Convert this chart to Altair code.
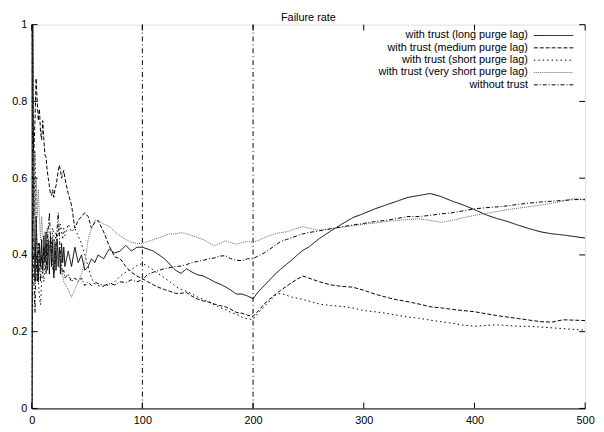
import altair as alt
import pandas as pd

# sample positions (time steps)
T = list(range(0, 31)) + [33, 36, 39, 42, 45, 48, 51, 54, 57, 60] + list(range(65, 251, 5)) + list(range(260, 501, 10))

long_lag = [1.0, 1.0, 0.5, 0.33, 0.5, 0.4, 0.33, 0.43, 0.37, 0.44, 0.36, 0.45, 0.38, 0.46, 0.36, 0.44,
            0.35, 0.45, 0.37, 0.44, 0.34, 0.43, 0.36, 0.44, 0.37, 0.42, 0.35, 0.43, 0.38, 0.42, 0.37,
            0.41, 0.37, 0.42, 0.38, 0.40, 0.36, 0.37, 0.39, 0.38, 0.40,
            0.39, 0.415, 0.405, 0.41, 0.425, 0.41, 0.42, 0.42, 0.415, 0.41, 0.40, 0.39, 0.375, 0.36, 0.352, 0.364,
            0.355, 0.348, 0.345, 0.338, 0.33, 0.324, 0.317, 0.308, 0.298, 0.298, 0.293, 0.286, 0.305, 0.32, 0.335, 0.35,
            0.363, 0.375, 0.387, 0.4, 0.412, 0.42,
            0.443, 0.462, 0.48, 0.497, 0.508, 0.52, 0.53, 0.54, 0.55, 0.555, 0.56, 0.552, 0.54, 0.53, 0.518,
            0.505, 0.495, 0.487, 0.477, 0.468, 0.46, 0.455, 0.452, 0.448, 0.444]

medium_lag = [0.0, 0.5, 0.67, 0.75, 0.86, 0.8, 0.75, 0.78, 0.72, 0.7, 0.75, 0.7, 0.66, 0.655, 0.62, 0.6,
              0.58, 0.56, 0.555, 0.57, 0.55, 0.57, 0.58, 0.6, 0.62, 0.634, 0.62, 0.6, 0.61, 0.62, 0.6,
              0.56, 0.53, 0.47, 0.49, 0.5, 0.51, 0.5, 0.47, 0.485, 0.49,
              0.46, 0.424, 0.395, 0.39, 0.37, 0.355, 0.345, 0.338, 0.33, 0.322, 0.315, 0.31, 0.305, 0.3, 0.3, 0.302,
              0.292, 0.285, 0.28, 0.277, 0.272, 0.268, 0.265, 0.258, 0.25, 0.248, 0.243, 0.24, 0.255, 0.272, 0.285, 0.297,
              0.308, 0.318, 0.328, 0.337, 0.345, 0.34,
              0.33, 0.322, 0.318, 0.316, 0.308, 0.298, 0.29, 0.283, 0.278, 0.272, 0.265, 0.262, 0.258, 0.255, 0.252,
              0.247, 0.242, 0.238, 0.234, 0.23, 0.226, 0.225, 0.231, 0.23, 0.229]

short_lag = [0.0, 1.0, 0.5, 0.67, 0.5, 0.4, 0.33, 0.29, 0.27, 0.33, 0.36, 0.33, 0.38, 0.42, 0.4, 0.44,
             0.41, 0.45, 0.42, 0.47, 0.45, 0.43, 0.46, 0.44, 0.47, 0.45, 0.48, 0.46, 0.44, 0.47, 0.45,
             0.48, 0.46, 0.47, 0.45, 0.43, 0.40, 0.37, 0.34, 0.325, 0.32,
             0.318, 0.322, 0.33, 0.345, 0.355, 0.362, 0.372, 0.378, 0.37, 0.36, 0.35, 0.34, 0.33, 0.318, 0.31, 0.305,
             0.298, 0.29, 0.284, 0.278, 0.27, 0.263, 0.258, 0.25, 0.245, 0.238, 0.233, 0.232, 0.25, 0.265, 0.28, 0.295,
             0.30, 0.295, 0.29, 0.287, 0.284, 0.28,
             0.272, 0.268, 0.266, 0.262, 0.255, 0.252, 0.248, 0.243, 0.238, 0.235, 0.23, 0.226, 0.222, 0.217, 0.214,
             0.216, 0.218, 0.216, 0.214, 0.214, 0.212, 0.21, 0.208, 0.206, 0.204]

very_short_lag = [1.0, 0.5, 0.67, 0.5, 0.6, 0.5, 0.57, 0.5, 0.44, 0.5, 0.45, 0.42, 0.46, 0.43, 0.47, 0.44,
                  0.41, 0.44, 0.42, 0.45, 0.43, 0.42, 0.40, 0.41, 0.38, 0.37, 0.365, 0.35, 0.345, 0.33, 0.325,
                  0.31, 0.29, 0.31, 0.33, 0.35, 0.38, 0.44, 0.47, 0.49, 0.49,
                  0.48, 0.475, 0.46, 0.45, 0.44, 0.433, 0.43, 0.43, 0.435, 0.44, 0.445, 0.45, 0.455, 0.455, 0.458, 0.455,
                  0.45, 0.445, 0.44, 0.432, 0.424, 0.43, 0.437, 0.432, 0.428, 0.432, 0.435, 0.433, 0.438, 0.445, 0.45, 0.455,
                  0.458, 0.46, 0.465, 0.47, 0.474, 0.47,
                  0.464, 0.468, 0.472, 0.476, 0.48, 0.483, 0.487, 0.49, 0.492, 0.494, 0.49, 0.485, 0.49, 0.497, 0.503,
                  0.508, 0.513, 0.518, 0.522, 0.526, 0.53, 0.535, 0.54, 0.547, 0.543]

without_trust = [1.0, 0.5, 0.33, 0.25, 0.4, 0.33, 0.43, 0.38, 0.33, 0.4, 0.36, 0.42, 0.38, 0.35, 0.43, 0.47,
                 0.51, 0.44, 0.4, 0.37, 0.35, 0.38, 0.42, 0.47, 0.51, 0.45, 0.4, 0.37, 0.35, 0.36, 0.34,
                 0.35, 0.33, 0.34, 0.33, 0.34, 0.32, 0.33, 0.32, 0.33, 0.325,
                 0.32, 0.325, 0.322, 0.33, 0.328, 0.335, 0.33, 0.335, 0.35, 0.355, 0.36, 0.364, 0.367, 0.37, 0.371, 0.375,
                 0.38, 0.383, 0.386, 0.39, 0.392, 0.397, 0.398, 0.39, 0.386, 0.385, 0.39, 0.39, 0.398, 0.405, 0.415, 0.425,
                 0.435, 0.44, 0.445, 0.45, 0.455, 0.458,
                 0.463, 0.468, 0.473, 0.478, 0.482, 0.487, 0.49, 0.495, 0.5, 0.5, 0.503, 0.507, 0.51, 0.515, 0.52,
                 0.523, 0.525, 0.528, 0.532, 0.535, 0.538, 0.54, 0.542, 0.544, 0.545]

names = ["with trust (long purge lag)", "with trust (medium purge lag)", "with trust (short purge lag)",
         "with trust (very short purge lag)", "without trust"]
series_values = [long_lag, medium_lag, short_lag, very_short_lag, without_trust]
colors = ["#000000", "#000000", "#000000", "#666666", "#000000"]
dashes = [[1, 0], [4, 2], [1.5, 3], [1, 1], [4, 2, 1, 2]]

x_ticks = [0, 100, 200, 300, 400, 500]
y_ticks = [0, 0.2, 0.4, 0.6, 0.8, 1.0]
markers = [100, 200]

rows = []
for name, vals in zip(names, series_values):
    for t, v in zip(T, vals):
        rows.append({"t": t, "v": v, "series": name})
df = pd.DataFrame(rows)
leg = pd.DataFrame({"series": names, "row": list(range(len(names)))})

W, H = 561, 389
FONT = "Liberation Sans"

xscale = alt.Scale(domain=[0, 500], nice=False, zero=False)
yscale = alt.Scale(domain=[0, 1], nice=False)
xaxis = alt.Axis(values=x_ticks, ticks=False, grid=False, labelFont=FONT, labelFontSize=11, labelColor="black",
                 domainColor="black", labelPadding=6, title=None, labelFlush=False)
yaxis = alt.Axis(values=y_ticks, ticks=False, grid=False, labelFont=FONT, labelFontSize=11, labelColor="black",
                 domainColor="black", labelPadding=5, title=None, format=".1~f")

X = alt.X("t:Q", scale=xscale, axis=xaxis)
Y = alt.Y("v:Q", scale=yscale, axis=yaxis)

col = alt.Color("series:N", scale=alt.Scale(domain=names, range=colors), legend=None)
dash = alt.StrokeDash("series:N", scale=alt.Scale(domain=names, range=dashes), legend=None)

lines = alt.Chart(df).mark_line(strokeWidth=1, clip=True).encode(
    x=X, y=Y, color=col, strokeDash=dash, order="t:Q"
)

vlines = alt.Chart(pd.DataFrame({"t": markers})).mark_rule(
    color="black", strokeWidth=1, strokeDash=[5, 3, 1, 3]
).encode(x=X, y=alt.value(0), y2=alt.value(H))

xt = pd.DataFrame({"t": x_ticks})
yt = pd.DataFrame({"v": y_ticks})
tick_b = alt.Chart(xt).mark_rule(color="black").encode(x=X, y=alt.value(H), y2=alt.value(H - 6))
tick_t = alt.Chart(xt).mark_rule(color="black").encode(x=X, y=alt.value(0), y2=alt.value(6))
tick_l = alt.Chart(yt).mark_rule(color="black").encode(y=Y, x=alt.value(0), x2=alt.value(6))
tick_r = alt.Chart(yt).mark_rule(color="black").encode(y=Y, x=alt.value(W), x2=alt.value(W - 6))

main = alt.layer(vlines, lines, tick_b, tick_t, tick_l, tick_r)

ly = alt.Y("row:Q", scale=alt.Scale(domain=[-0.88, 30.24], reverse=True), axis=None)
leg_text = alt.Chart(leg).mark_text(align="right", baseline="middle", font=FONT, fontSize=11, color="black").encode(
    x=alt.value(503), y=ly, text="series:N"
)
leg_rule = alt.Chart(leg).mark_rule(strokeWidth=1).encode(
    x=alt.value(509), x2=alt.value(549), y=ly, color=col, strokeDash=dash
)
legend = alt.layer(leg_text, leg_rule)

chart = alt.layer(main, legend).resolve_scale(y="independent").properties(
    width=W, height=H,
    title=alt.TitleParams("Failure rate", font=FONT, fontSize=11, fontWeight="normal", color="black",
                          anchor="middle", offset=2, dy=6),
    autosize=alt.AutoSizeParams(type="none"),
    padding={"left": 24, "top": 14, "right": 11, "bottom": 21},
).configure_view(stroke="black", strokeWidth=1).configure(background="white")

chart.save("out.html", embed_options={"renderer": "svg", "actions": False})
